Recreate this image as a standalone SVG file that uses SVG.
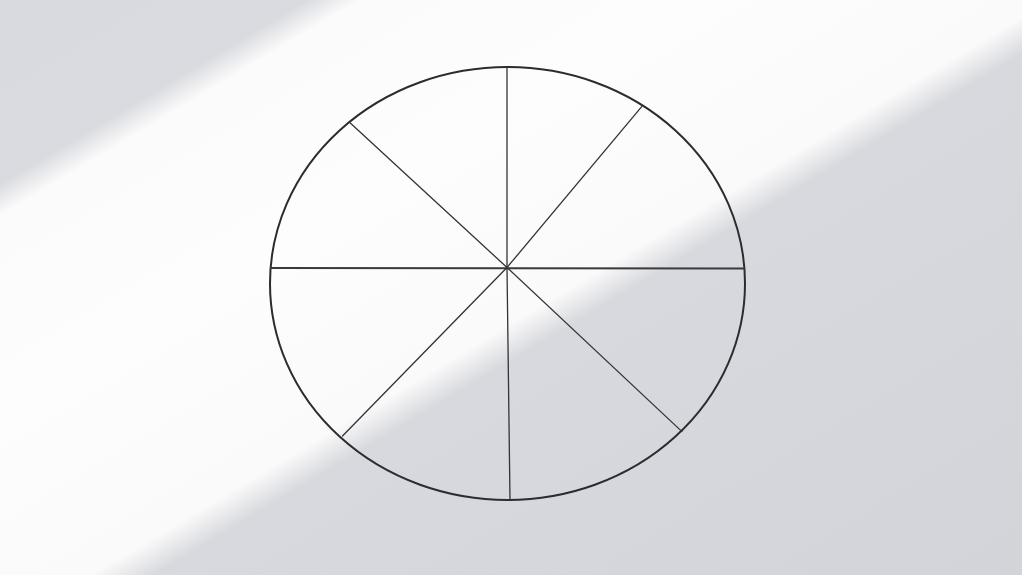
<svg xmlns="http://www.w3.org/2000/svg" width="1022" height="575" viewBox="0 0 1022 575">
  <defs>
    <linearGradient id="light" gradientUnits="userSpaceOnUse" x1="0" y1="0" x2="524" y2="873.5">
      <stop offset="0" stop-color="#d9dadf"/>
      <stop offset="0.155" stop-color="#dadbe0"/>
      <stop offset="0.182" stop-color="#fbfbfb"/>
      <stop offset="0.35" stop-color="#fdfdfd"/>
      <stop offset="0.53" stop-color="#fafafa"/>
      <stop offset="0.562" stop-color="#d8d9de"/>
      <stop offset="1" stop-color="#d3d4d9"/>
    </linearGradient>
    <style>
      .rim { fill: none; stroke: #2c2c30; stroke-width: 2; }
      .spoke { stroke: #333336; stroke-width: 1.3; stroke-linecap: round; }
      .axis { stroke: #3a3a3e; stroke-width: 1.8; }
    </style>
  </defs>
  <g id="background">
    <rect x="0" y="0" width="1022" height="575" fill="url(#light)"/>
  </g>
  <g id="wheel">
    <ellipse class="rim" cx="507.5" cy="283.5" rx="237.5" ry="216.5"/>
  </g>
  <g id="spokes">
    <line class="axis" x1="270" y1="268" x2="745" y2="268.5"/>
    <line class="spoke" x1="507" y1="67" x2="507" y2="267.5"/>
    <line class="spoke" x1="507" y1="267.5" x2="510" y2="500"/>
    <line class="spoke" x1="350" y1="122.7" x2="507" y2="267.5"/>
    <line class="spoke" x1="641.7" y1="106.7" x2="507" y2="267.5"/>
    <line class="spoke" x1="342.5" y1="436" x2="507" y2="267.5"/>
    <line class="spoke" x1="682" y1="431.6" x2="507" y2="267.5"/>
  </g>
</svg>
